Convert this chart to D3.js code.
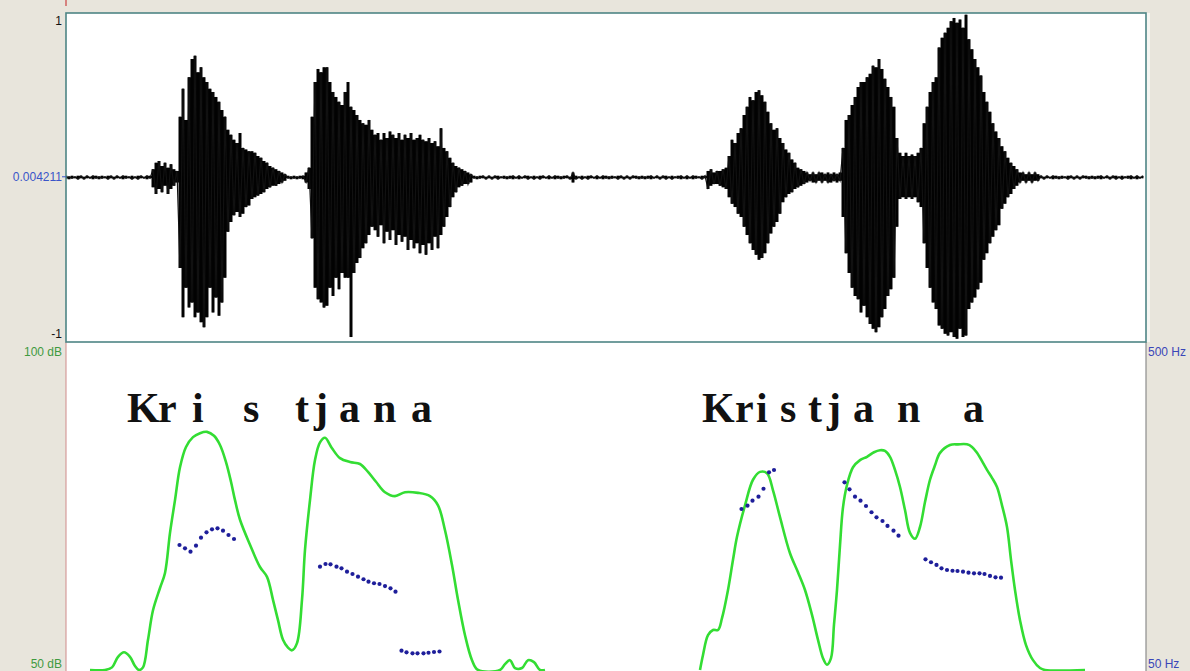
<!DOCTYPE html>
<html>
<head>
<meta charset="utf-8">
<script src="https://cdn.jsdelivr.net/npm/d3@7"></script>
<style>
  html, body { margin: 0; padding: 0; background: #e8e5dc; }
  svg { display: block; }
</style>
</head>
<body>
<svg id="chart" width="1190" height="671"></svg>
<script>
// ---- data -------------------------------------------------------------
// Sound: upper / lower amplitude envelope, one value every 6 ms
const waveStep = 0.006;
const waveMax = [
  0.01,0.005,0.01,0.005,0.01,0.01,0.005,0.01,0.005,0.01,0.01,0.005,0.01,0.005,0.01,0.01,0.005,0.01,0.005,0.01,0.01,0.005,0.01,0.005,0.01,0.01,0.005,0.01,0.01,
  0.05,0.09,0.10,0.07,0.09,0.06,0.08,0.05,0.04,
  0.37,0.54,0.35,0.61,0.72,0.74,0.64,0.67,0.61,0.58,0.54,0.52,0.49,0.46,0.41,0.37,0.29,0.26,0.23,0.21,0.27,0.18,0.17,0.16,0.16,0.15,0.13,0.12,0.10,0.09,0.07,0.06,0.05,0.04,0.03,0.02,
  0.01,0.005,0.01,0.005,0.01,0.01,
  0.03,0.06,0.37,0.58,0.66,0.64,0.67,0.67,0.58,0.52,0.49,0.46,0.44,0.52,0.58,0.43,0.41,0.38,0.35,0.33,0.32,0.35,0.29,0.26,0.27,0.23,0.27,0.24,0.28,0.26,0.24,0.27,0.23,0.26,0.24,0.27,0.23,0.24,0.26,0.23,0.22,0.24,0.21,0.22,0.19,0.30,0.18,0.16,0.12,0.09,0.07,0.06,0.05,0.04,0.03,0.02,
  0.01,0.005,0.01,0.01,0.005,0.01,0.005,0.01,0.01,0.005,0.01,0.005,0.01,0.01,0.005,0.01,0.005,0.01,0.01,0.005,0.01,0.005,0.01,0.01,0.005,0.01,0.005,0.01,0.01,0.005,0.01,0.01,0.005,0.03,0.01,0.005,0.01,0.005,0.01,0.01,0.005,0.01,0.005,0.01,0.01,0.005,0.01,0.005,0.01,0.01,0.005,0.01,0.005,0.01,0.01,0.005,0.01,0.005,0.01,0.01,0.005,0.01,0.005,0.01,0.01,0.005,0.01,0.005,0.01,0.01,0.005,0.01,0.005,0.01,0.01,0.005,0.01,0.01,
  0.04,0.05,0.03,0.04,0.04,0.05,0.06,0.13,0.23,0.21,0.27,0.30,0.38,0.43,0.49,0.47,0.52,0.53,0.50,0.46,0.40,0.33,0.29,0.30,0.24,0.21,0.17,0.15,0.11,0.09,0.06,0.05,0.04,
  0.03,0.02,0.03,0.02,0.03,0.03,0.02,0.03,0.02,0.03,0.02,0.03,
  0.18,0.35,0.38,0.44,0.49,0.55,0.58,0.58,0.61,0.63,0.68,0.67,0.72,0.66,0.60,0.55,0.49,0.43,0.24,0.15,0.13,0.15,0.13,0.14,0.13,0.15,0.18,0.33,0.43,0.52,0.58,0.61,0.79,0.85,0.88,0.91,0.95,0.97,0.94,0.96,0.91,0.99,0.84,0.78,0.72,0.67,0.62,0.52,0.46,0.40,0.33,0.28,0.24,0.19,0.16,0.12,0.09,0.07,0.05,
  0.03,0.03,0.02,0.03,0.02,0.03,0.02,
  0.01,0.005,0.01,0.005,0.01,0.01,0.005,0.01,0.005,0.01,0.01,0.005,0.01,0.005,0.01,0.01,0.005,0.01,0.005,0.01,0.01,0.005,0.01,0.005,0.01,0.01,0.005,0.01,0.005,0.01,0.01,0.005,0.01,0.005,0.01
];
const waveMin = [
  -0.005,-0.01,-0.005,-0.005,-0.01,-0.005,-0.01,-0.005,-0.005,-0.01,-0.005,-0.01,-0.005,-0.005,-0.01,-0.005,-0.01,-0.005,-0.005,-0.01,-0.005,-0.005,-0.01,-0.005,-0.01,-0.005,-0.005,-0.01,-0.005,
  -0.06,-0.10,-0.07,-0.09,-0.05,-0.10,-0.07,-0.05,-0.03,
  -0.55,-0.85,-0.67,-0.79,-0.76,-0.85,-0.82,-0.88,-0.91,-0.85,-0.67,-0.82,-0.73,-0.84,-0.76,-0.61,-0.33,-0.27,-0.23,-0.21,-0.24,-0.22,-0.18,-0.17,-0.13,-0.12,-0.11,-0.10,-0.09,-0.07,-0.06,-0.05,-0.05,-0.04,-0.03,-0.02,
  -0.005,-0.01,-0.005,-0.01,-0.005,-0.01,
  -0.03,-0.07,-0.37,-0.67,-0.74,-0.76,-0.79,-0.78,-0.67,-0.72,-0.61,-0.68,-0.58,-0.61,-0.61,-0.97,-0.58,-0.52,-0.49,-0.43,-0.40,-0.35,-0.30,-0.32,-0.36,-0.29,-0.40,-0.33,-0.38,-0.32,-0.41,-0.35,-0.39,-0.36,-0.44,-0.38,-0.43,-0.40,-0.46,-0.41,-0.47,-0.40,-0.44,-0.36,-0.43,-0.35,-0.30,-0.24,-0.18,-0.12,-0.09,-0.06,-0.05,-0.04,-0.04,-0.03,
  -0.005,-0.01,-0.005,-0.005,-0.01,-0.005,-0.01,-0.005,-0.01,-0.005,-0.005,-0.01,-0.005,-0.01,-0.005,-0.01,-0.005,-0.005,-0.01,-0.005,-0.01,-0.005,-0.01,-0.005,-0.005,-0.01,-0.005,-0.01,-0.005,-0.01,-0.005,-0.005,-0.01,-0.03,-0.01,-0.005,-0.01,-0.005,-0.01,-0.005,-0.005,-0.01,-0.005,-0.01,-0.005,-0.01,-0.005,-0.005,-0.01,-0.005,-0.01,-0.005,-0.01,-0.005,-0.005,-0.01,-0.005,-0.01,-0.005,-0.01,-0.005,-0.005,-0.01,-0.005,-0.01,-0.005,-0.01,-0.005,-0.005,-0.01,-0.005,-0.01,-0.005,-0.01,-0.005,-0.005,-0.01,-0.005,
  -0.07,-0.05,-0.04,-0.04,-0.05,-0.06,-0.07,-0.12,-0.16,-0.18,-0.22,-0.24,-0.30,-0.35,-0.40,-0.44,-0.47,-0.50,-0.49,-0.46,-0.40,-0.34,-0.30,-0.27,-0.22,-0.15,-0.12,-0.10,-0.09,-0.07,-0.06,-0.05,-0.04,
  -0.03,-0.02,-0.03,-0.03,-0.02,-0.03,-0.02,-0.03,-0.03,-0.02,-0.03,-0.02,
  -0.24,-0.46,-0.58,-0.67,-0.72,-0.74,-0.82,-0.78,-0.85,-0.89,-0.92,-0.94,-0.91,-0.85,-0.80,-0.72,-0.68,-0.61,-0.30,-0.13,-0.12,-0.13,-0.12,-0.13,-0.12,-0.15,-0.18,-0.40,-0.55,-0.67,-0.76,-0.80,-0.90,-0.92,-0.95,-0.96,-0.94,-0.97,-0.98,-0.92,-0.97,-0.96,-0.80,-0.76,-0.73,-0.68,-0.64,-0.50,-0.46,-0.40,-0.36,-0.32,-0.29,-0.19,-0.16,-0.12,-0.10,-0.07,-0.05,
  -0.03,-0.02,-0.03,-0.02,-0.03,-0.02,-0.02,
  -0.005,-0.01,-0.005,-0.005,-0.01,-0.005,-0.01,-0.005,-0.005,-0.01,-0.005,-0.01,-0.005,-0.01,-0.005,-0.005,-0.01,-0.005,-0.01,-0.005,-0.01,-0.005,-0.005,-0.01,-0.005,-0.01,-0.005,-0.01,-0.005,-0.005,-0.01,-0.005,-0.01,-0.005,-0.005
];

// Intensity contour (dB); null marks a gap between the two utterances
const intensityTime = [
  0.048,0.078,0.092,0.104,0.116,0.128,0.138,0.146,0.154,0.164,0.174,0.188,0.198,0.208,0.218,0.228,0.240,0.254,0.268,0.282,0.296,0.308,0.320,0.330,0.338,0.348,0.368,0.388,0.402,0.414,0.424,0.434,0.444,0.452,0.462,0.472,0.478,0.488,0.498,0.508,0.518,0.532,0.548,0.568,0.588,0.604,0.620,0.638,0.658,0.678,0.704,0.728,0.744,0.758,0.772,0.784,0.798,0.812,0.824,0.868,0.878,0.888,0.898,0.912,0.924,0.936,0.948,0.958,
  1.100,
  1.268,1.274,1.284,1.294,1.304,1.312,1.324,1.334,1.342,1.358,1.374,1.388,1.402,1.414,1.428,1.448,1.464,1.478,1.492,1.504,1.514,1.522,1.530,1.536,1.542,1.548,1.554,1.562,1.574,1.588,1.602,1.616,1.628,1.638,1.648,1.658,1.668,1.678,1.688,1.698,1.708,1.718,1.728,1.738,1.748,1.768,1.784,1.802,1.812,1.822,1.842,1.852,1.862,1.872,1.882,1.890,1.898,1.908,1.920,1.934,1.948,1.958,2.038
];
const intensityDb = [
  50.0,50.0,50.4,52.0,52.7,52.0,50.6,49.8,50.4,54.6,59.1,62.5,64.8,70.9,75.9,80.9,84.0,85.5,86.1,86.3,85.7,84.3,81.7,78.7,75.9,72.9,69.1,65.7,64.2,60.7,57.6,54.6,53.4,53.0,54.1,60.7,68.3,75.9,82.0,84.7,85.4,83.8,82.3,81.7,81.4,80.2,78.7,77.1,76.5,77.1,77.0,76.5,75.1,71.3,66.0,60.7,55.3,51.5,50.0,50.0,50.9,51.5,50.3,50.3,51.5,51.2,50.0,50.0,
  null,
  50.0,52.3,55.3,56.1,56.1,57.9,62.2,66.8,70.3,75.1,79.0,80.2,80.0,77.4,73.3,67.8,64.9,62.2,58.4,54.6,51.8,50.8,51.8,56.9,62.2,69.0,74.8,78.2,80.9,82.0,82.5,83.2,83.5,83.4,82.5,80.5,77.9,74.4,70.9,70.0,71.8,75.6,79.0,81.2,83.1,84.3,84.4,84.4,84.0,83.1,80.5,79.3,77.9,75.1,71.8,66.8,62.2,57.6,53.8,51.5,50.3,50.0,50.0
];

// Pitch track (Hz)
const pitchTime = [
  0.227,0.238,0.249,0.260,0.270,0.281,0.292,0.303,0.314,0.325,0.336,
  0.508,0.519,0.529,0.541,0.551,0.562,0.573,0.584,0.595,0.605,0.616,0.627,0.638,0.649,0.659,
  0.671,0.681,0.693,0.703,0.715,0.725,0.736,0.747,
  1.351,1.363,1.373,1.385,1.395,1.406,1.416,
  1.557,1.567,1.578,1.589,1.600,1.611,1.621,1.633,1.643,1.655,1.665,
  1.719,1.730,1.741,1.751,1.762,1.773,1.783,1.794,1.805,1.816,1.827,1.837,1.848,1.859,1.870
];
const pitchHz = [
  221.5,217.0,212.3,220.5,231.5,238.9,243.0,244.4,241.1,235.2,229.7,
  191.7,195.4,195.0,191.7,189.5,184.9,181.7,178.0,174.5,171.2,169.0,168.0,165.2,162.1,157.4,
  76.5,74.3,72.9,72.9,72.9,73.7,74.7,75.4,
  270.9,275.4,282.3,287.8,298.7,321.2,324.4,
  307.5,297.9,287.8,282.3,275.0,266.4,259.5,254.4,247.6,241.1,234.3,
  201.9,197.8,194.1,189.5,187.2,186.2,185.8,184.9,183.5,182.7,182.7,181.7,179.0,177.2,176.6
];

// Segment letters and their onset times (s)
const letters = ["K","r","i","s","t","j","a","n","a", "K","r","i","s","t","j","a","n","a"];
const letterTime = [0.122,0.184,0.252,0.354,0.458,0.496,0.546,0.614,0.690,
                    1.272,1.338,1.380,1.428,1.484,1.522,1.574,1.662,1.794];

// Axis ranges and their labels
const duration = 2.16;
const waveTicks = [1, 0.004211, -1];
const waveTickText = ["1", "0.004211", "-1"];
const dbRange = [50, 100];
const dbTickText = ["50 dB", "100 dB"];
const hzRange = [50, 500];
const hzTickText = ["50 Hz", "500 Hz"];

// ---- layout -----------------------------------------------------------
const W = 1190, H = 671;
const plotLeft = 66, plotRight = 1146, plotTop = 13, plotSplit = 342, plotFloor = 670;
const svg = d3.select("#chart");

const x = d3.scaleLinear().domain([0, duration]).range([plotLeft, plotRight]);
const yWave = d3.scaleLinear().domain([-1, 1]).range([plotSplit, plotTop]);
const yDb = d3.scaleLinear().domain(dbRange).range([plotFloor, plotSplit]).clamp(true);
const yHz = d3.scaleLinear().domain(hzRange).range([plotFloor, plotSplit]);

svg.append("rect").attr("width", W).attr("height", H).attr("fill", "#e8e5dc");
svg.append("rect").attr("x", plotLeft).attr("y", plotTop).attr("width", plotRight - plotLeft).attr("height", H - plotTop).attr("fill", "#ffffff");
svg.append("rect").attr("x", plotRight).attr("y", plotTop).attr("width", 4).attr("height", plotSplit - plotTop).attr("fill", "#f6f6f2");

const defs = svg.append("defs");
defs.append("clipPath").attr("id", "clipWave")
  .append("rect").attr("x", plotLeft).attr("y", plotTop).attr("width", plotRight - plotLeft).attr("height", plotSplit - plotTop);
defs.append("clipPath").attr("id", "clipLow")
  .append("rect").attr("x", plotLeft).attr("y", plotSplit).attr("width", plotRight - plotLeft).attr("height", H - plotSplit);

// ---- waveform ---------------------------------------------------------
const wave = waveMax.map((v, i) => ({ t: i * waveStep, hi: v, lo: waveMin[i] }));
const waveG = svg.append("g").attr("clip-path", "url(#clipWave)");
// stepped envelope gives the dense vertical-stroke texture of a sampled sound
waveG.append("path")
  .datum(wave)
  .attr("fill", "#050505")
  .attr("d", d3.area().x(d => x(d.t)).y0(d => yWave(d.lo)).y1(d => yWave(d.hi)).curve(d3.curveStep));
// a hairline at each sample marks the individual peaks
waveG.append("g").selectAll("line")
  .data(wave)
  .join("line")
  .attr("x1", d => x(d.t)).attr("x2", d => x(d.t))
  .attr("y1", d => yWave(d.hi)).attr("y2", d => yWave(d.lo))
  .attr("stroke", "#000")
  .attr("stroke-width", 1);
// the near-silent stretches are drawn as a thin trace
waveG.append("path")
  .datum(wave)
  .attr("fill", "none")
  .attr("stroke", "#111")
  .attr("stroke-width", 1.2)
  .attr("d", d3.line().x(d => x(d.t)).y((d, i) => yWave(i % 2 ? d.hi : d.lo)));

// ---- intensity --------------------------------------------------------
const intensity = intensityTime.map((t, i) => ({ t, db: intensityDb[i] }));
svg.append("path")
  .datum(intensity)
  .attr("clip-path", "url(#clipLow)")
  .attr("fill", "none")
  .attr("stroke", "#33dd33")
  .attr("stroke-width", 2.6)
  .attr("stroke-linejoin", "round")
  .attr("d", d3.line().defined(d => d.db !== null).x(d => x(d.t)).y(d => yDb(d.db)).curve(d3.curveCatmullRom.alpha(0.5)));

// ---- pitch ------------------------------------------------------------
svg.append("g").selectAll("circle")
  .data(pitchTime.map((t, i) => ({ t, hz: pitchHz[i] })))
  .join("circle")
  .attr("cx", d => x(d.t))
  .attr("cy", d => yHz(d.hz))
  .attr("r", 2.1)
  .attr("fill", "#1e1e9a");

// ---- segment letters --------------------------------------------------
svg.append("g").selectAll("text")
  .data(letters.map((s, i) => ({ s, t: letterTime[i] })))
  .join("text")
  .attr("x", d => x(d.t))
  .attr("y", 422)
  .attr("font-family", "'Liberation Serif', 'DejaVu Serif', serif")
  .attr("font-weight", "bold")
  .attr("font-size", 42)
  .attr("fill", "#111")
  .text(d => d.s);

// ---- frames -----------------------------------------------------------
svg.append("line").attr("x1", plotLeft).attr("x2", plotLeft).attr("y1", 0).attr("y2", 6)
  .attr("stroke", "#d06060").attr("stroke-width", 1.5);
svg.append("line").attr("x1", plotLeft).attr("x2", plotLeft).attr("y1", plotSplit).attr("y2", H)
  .attr("stroke", "#cf8a8a").attr("stroke-width", 1);
svg.append("line").attr("x1", plotRight).attr("x2", plotRight).attr("y1", plotSplit).attr("y2", H)
  .attr("stroke", "#8c8c8c").attr("stroke-width", 1.2);
svg.append("rect").attr("x", plotLeft).attr("y", plotTop).attr("width", plotRight - plotLeft).attr("height", plotSplit - plotTop)
  .attr("fill", "none").attr("stroke", "#4e8585").attr("stroke-width", 1.6);

// ---- axis labels ------------------------------------------------------
const labelFont = "'Liberation Sans', Arial, sans-serif";
const waveColors = ["#111", "#3a55c8", "#111"];
const waveDy = [12, 4, -4];
svg.append("g").selectAll("text")
  .data(waveTicks)
  .join("text")
  .attr("x", plotLeft - 4)
  .attr("y", (d, i) => yWave(d) + waveDy[i])
  .attr("text-anchor", "end")
  .attr("font-family", labelFont)
  .attr("font-size", 12)
  .attr("fill", (d, i) => waveColors[i])
  .text((d, i) => waveTickText[i]);
svg.append("line").attr("x1", plotLeft - 4).attr("x2", plotLeft).attr("y1", yWave(waveTicks[1])).attr("y2", yWave(waveTicks[1]))
  .attr("stroke", "#3a55c8").attr("stroke-width", 1);

svg.append("g").selectAll("text")
  .data(dbRange)
  .join("text")
  .attr("x", plotLeft - 4)
  .attr("y", d => yDb(d) + (d === dbRange[1] ? 14 : -2))
  .attr("text-anchor", "end")
  .attr("font-family", labelFont)
  .attr("font-size", 12)
  .attr("fill", "#3f9a3f")
  .text((d, i) => dbTickText[i]);

svg.append("g").selectAll("text")
  .data(hzRange)
  .join("text")
  .attr("x", plotRight + 2)
  .attr("y", d => yHz(d) + (d === hzRange[1] ? 14 : -2))
  .attr("text-anchor", "start")
  .attr("font-family", labelFont)
  .attr("font-size", 12)
  .attr("fill", "#3a46b8")
  .text((d, i) => hzTickText[i]);
</script>
</body>
</html>
